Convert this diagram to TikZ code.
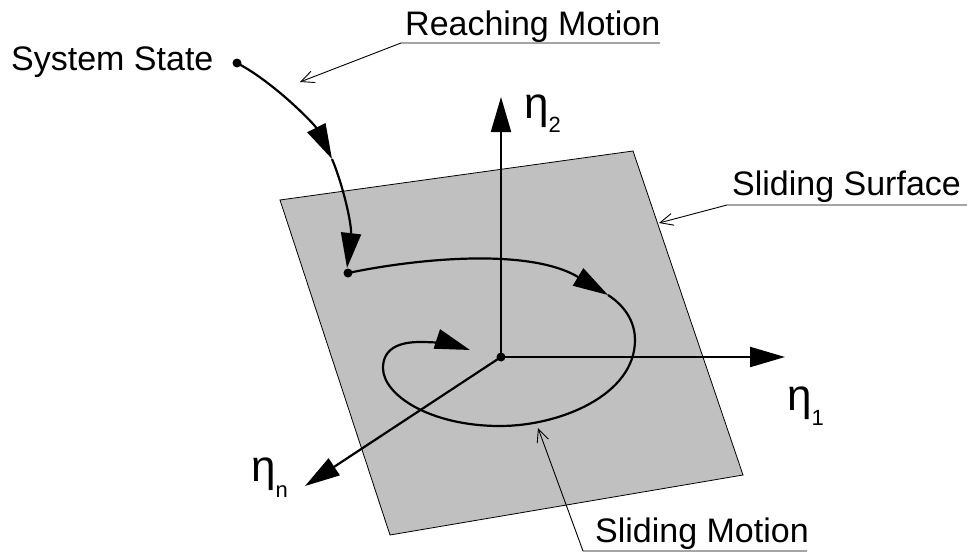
\documentclass[tikz,border=0pt]{standalone}
\usepackage{fontspec}
\setmainfont{Liberation Sans}
\usetikzlibrary{arrows.meta}
\definecolor{planegray}{HTML}{C0C0C0}
\begin{document}
\begin{tikzpicture}[x=1pt,y=-1pt,
  lbl/.style={inner sep=0pt, anchor=base west, font=\fontsize{34}{40}\selectfont},
  etalbl/.style={inner sep=0pt, anchor=base west, font=\fontsize{44}{50}\selectfont},
  thickline/.style={line width=2.2pt},
  bigarrow/.style={-{Triangle[length=35pt,width=20pt]}},
  leader/.style={line width=0.9pt, -{Straight Barb[length=13pt,width=12pt]}},
  dotnode/.style={circle, fill=black, inner sep=0pt, minimum size=9pt}
]
\useasboundingbox (0,0) rectangle (967,554);

% sliding surface
\fill[fill=planegray, draw=black, line width=0.8pt]
  (280,200) -- (633,151) -- (743,475) -- (390,535) -- cycle;

% coordinates
\coordinate (r1) at (332,159);
\coordinate (r2) at (347,268);
\coordinate (s1) at (608,295);
\coordinate (e1) at (635,340);
\coordinate (e2) at (500,426);
\coordinate (e3) at (383,368);
\coordinate (e4) at (420,342);
\coordinate (s2) at (470,350);
\coordinate (x2) at (501,97);
\coordinate (x1) at (785,357);
\coordinate (xn) at (305,486);

\node[dotnode] (ss) at (237,63) {};
\node[dotnode] (p0) at (348,273) {};
\node[dotnode] (O) at (501,357) {};

% axes
\draw[thickline, bigarrow] (O.center) -- (x2);
\draw[thickline, bigarrow] (O.center) -- (x1);
\draw[thickline, bigarrow] (O.center) -- (xn);

% reaching motion
\draw[thickline, bigarrow] (ss.center) .. controls (275,83) and (315,125) .. (r1);
\draw[thickline, bigarrow] (r1) .. controls (343,185) and (352,225) .. (r2);

% sliding motion
\draw[thickline, bigarrow] (p0.center) .. controls (420,258) and (530,248) .. (s1);
\draw[thickline, bigarrow] (s1) .. controls (628,308) and (635,325) .. (e1)
  .. controls (635,395) and (560,426) .. (e2)
  .. controls (430,426) and (383,395) .. (e3)
  .. controls (383,348) and (400,342) .. (e4)
  .. controls (440,342) and (455,345) .. (s2);

% labels
\node[lbl] (lss) at (11,70) {System State};
\node[lbl] (lrm) at (405,35) {Reaching Motion};
\node[lbl] (lsf) at (732,195) {Sliding Surface};
\node[lbl] (lsm) at (595,542) {Sliding Motion};

\node[etalbl] (eta2) at (524,118) {η\raisebox{-14pt}{\fontsize{22}{24}\selectfont 2}};
\node[etalbl] (eta1) at (787,410) {η\raisebox{-15pt}{\fontsize{22}{24}\selectfont 1}};
\node[etalbl] (etan) at (251,481) {η\raisebox{-16pt}{\fontsize{22}{24}\selectfont n}};

% leaders
\coordinate (rmA) at (660,43);
\coordinate (rmB) at (401,43);
\coordinate (rmT) at (300,82);
\draw[leader] (rmA) -- (rmB) -- (rmT);
\coordinate (sfA) at (967,205);
\coordinate (sfB) at (727,205);
\coordinate (sfT) at (659,223);
\draw[leader] (sfA) -- (sfB) -- (sfT);
\coordinate (smA) at (807,551);
\coordinate (smB) at (583,551);
\coordinate (smT) at (538,428);
\draw[leader] (smA) -- (smB) -- (smT);
\end{tikzpicture}
\end{document}
